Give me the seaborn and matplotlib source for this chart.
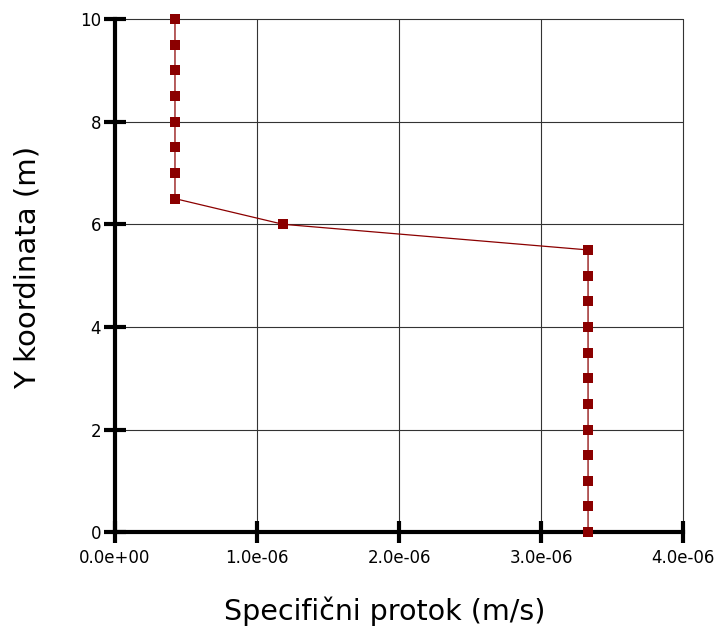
import numpy as np
import pandas as pd
import seaborn as sns
import matplotlib
matplotlib.use("Agg")
import matplotlib.pyplot as plt

y_coord = [0.0, 0.5, 1.0, 1.5, 2.0, 2.5, 3.0, 3.5, 4.0, 4.5, 5.0, 5.5,
           6.0, 6.5, 7.0, 7.5, 8.0, 8.5, 9.0, 9.5, 10.0]
flux = [3.33e-6] * 12 + [1.183e-6] + [0.4225e-6] * 8
x_ticks = [0.0, 1e-6, 2e-6, 3e-6, 4e-6]
x_tick_labels = ["0.0e+00", "1.0e-06", "2.0e-06", "3.0e-06", "4.0e-06"]
y_ticks = [0, 2, 4, 6, 8, 10]

df = pd.DataFrame({"flux": flux, "y": y_coord})

sns.set_style("white")
plt.rcParams['font.family'] = ['DejaVu Sans']
plt.rcParams['text.color'] = 'black'

fig = plt.figure(figsize=(7.23, 6.35), dpi=100)
ax = fig.add_axes([0.159, 0.162, 0.786, 0.808])

sns.lineplot(data=df, x="flux", y="y", sort=False, ax=ax, color="#8b0000",
             linewidth=0.9, marker="s", markersize=7, markeredgewidth=0,
             markerfacecolor="#8b0000", estimator=None, clip_on=False, zorder=5)

ax.set_xlim(0, 4e-6)
ax.set_ylim(0, 10)
ax.set_xticks(x_ticks)
ax.set_xticklabels(x_tick_labels)
ax.set_yticks(y_ticks)
ax.grid(True, color="#333333", linewidth=0.8)
for gl in ax.get_xgridlines() + ax.get_ygridlines():
    gl.set_clip_on(False)
ax.set_axisbelow(True)

for s in ["top", "right"]:
    ax.spines[s].set_visible(False)
for s in ["left", "bottom"]:
    ax.spines[s].set_linewidth(3)
    ax.spines[s].set_color("black")

ax.tick_params(axis="both", which="major", bottom=True, left=True,
               direction="inout", length=16, width=3,
               labelsize=12, colors="black", labelcolor="black")
ax.tick_params(axis="x", pad=4)
ax.tick_params(axis="y", pad=2)

ax.set_xlabel("Specifični protok (m/s)", fontsize=20.5, color="black")
ax.set_ylabel("Y koordinata (m)", fontsize=21, color="black")
ax.xaxis.set_label_coords(0.475, -0.125)
ax.yaxis.set_label_coords(-0.13, 0.515)

fig.savefig("out.png", dpi=100, facecolor="white")
